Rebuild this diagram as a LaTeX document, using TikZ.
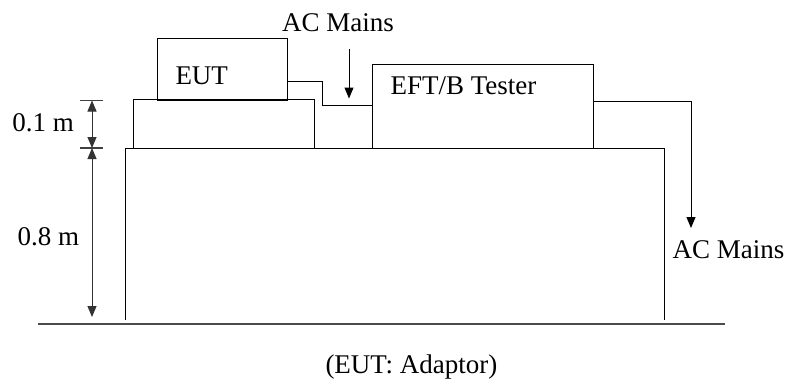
\documentclass[tikz,border=0pt]{standalone}
\usepackage{fontspec}
\setmainfont{Liberation Serif}
\usetikzlibrary{arrows.meta}
\begin{document}
\begin{tikzpicture}[x=1pt,y=-1pt,
  line width=1pt,
  lbl/.style={inner sep=0pt,anchor=base west,font=\fontsize{27}{32}\selectfont},
  boxn/.style={draw,rectangle,inner sep=0pt},
  arr/.style={-{Triangle[width=9pt,length=11pt]}},
  dim/.style={{Triangle[width=9pt,length=11pt]}-{Triangle[width=9pt,length=11pt]}},
  tick/.style={draw=black!75,line width=1.3pt}]
\useasboundingbox (0,0) rectangle (787,383);
% ground
\coordinate (g1) at (38,324);
\coordinate (g2) at (725,324);
\draw[draw=black!70,line width=1.4pt] (g1) -- (g2);
% big table
\coordinate (bt1) at (125,320);
\coordinate (bt2) at (125,148);
\coordinate (bt3) at (664,148);
\coordinate (bt4) at (664,320);
\draw (bt1) -- (bt2) -- (bt3) -- (bt4);
% small table
\coordinate (st1) at (133,148);
\coordinate (st2) at (133,99);
\coordinate (st3) at (314,99);
\coordinate (st4) at (314,148);
\draw (st1) -- (st2) -- (st3) -- (st4);
% EUT box
\node[boxn,minimum width=130pt,minimum height=62pt] (eut) at (222,69) {};
\node[lbl] (eutl) at (175,84) {EUT};
% EFT box
\node[boxn,minimum width=221pt,minimum height=84pt] (eft) at (482.5,106) {};
\node[lbl] (eftl) at (390,94) {EFT/B Tester};
% connector EUT -> EFT
\coordinate (c1) at (322,81);
\coordinate (c2) at (322,105);
\draw (eut.east |- c1) -- (c1) -- (c2) -- (eft.west |- c2);
% top AC mains
\node[lbl,anchor=base] (acm1) at (338,31) {AC Mains};
\coordinate (a1) at (349,49);
\coordinate (a2) at (349,98.5);
\draw[arr] (a1) -- (a2);
% right AC mains
\coordinate (r1) at (691,101);
\coordinate (r2) at (691,228);
\draw[arr] (eft.east |- r1) -- (r1) -- (r2);
\node[lbl] (acm2) at (672,258) {AC Mains};
% dimensions
\coordinate (t1a) at (80,100.5);
\coordinate (t1b) at (103,100.5);
\coordinate (t2a) at (80,148);
\coordinate (t2b) at (103,148);
\draw[tick] (t1a) -- (t1b);
\draw[tick] (t2a) -- (t2b);
\coordinate (d1) at (92,100.5);
\coordinate (d2) at (92,148);
\coordinate (d3) at (92,317);
\draw[dim,draw=black!80] (d1) -- (d2);
\draw[dim,draw=black!80] (d2) -- (d3);
\node[lbl] (h1) at (12,131) {0.1 m};
\node[lbl] (h2) at (17,245) {0.8 m};
% caption
\node[lbl] (cap) at (325,373) {(EUT: Adaptor)};
\end{tikzpicture}
\end{document}
